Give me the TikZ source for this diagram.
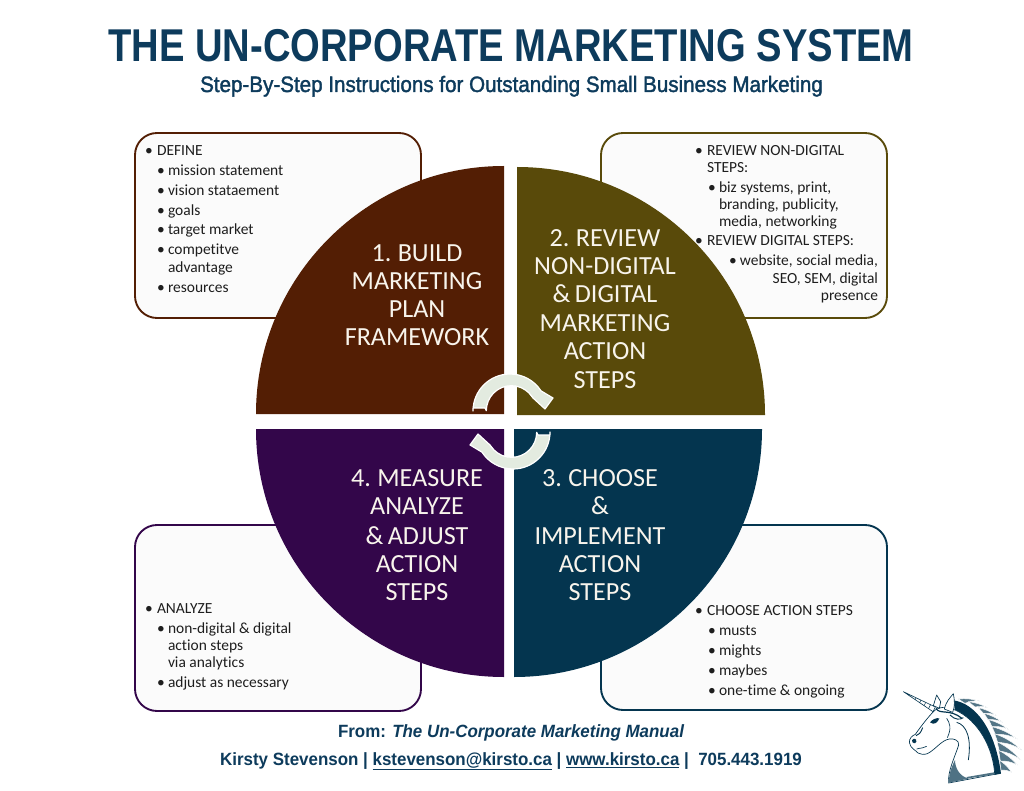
\documentclass[tikz,border=0pt]{standalone}
\usepackage{fontspec}
\setmainfont[Ligatures=NoCommon]{Carlito}
\newfontfamily\quadfont[WordSpace=0.75,Ligatures=NoCommon]{Carlito}
\newfontfamily\titlefont[FakeStretch=0.83]{Liberation Sans}
\newfontfamily\subfont[FakeStretch=0.925,FakeBold=1.6]{Liberation Sans}
\newfontfamily\footfont[FakeStretch=0.955]{Liberation Sans}
\usetikzlibrary{calc}
\definecolor{brownq}{HTML}{531E04}
\definecolor{oliveq}{HTML}{594A0A}
\definecolor{navyq}{HTML}{04354F}
\definecolor{purpleq}{HTML}{33064A}
\definecolor{headnavy}{HTML}{0D3B5C}
\definecolor{arrowfill}{HTML}{E3EBE0}
\definecolor{bodyink}{HTML}{1E1E1E}
\definecolor{quadink}{HTML}{F8F4EC}
\tikzset{
  x=0.75pt,y=0.75pt,
  panel/.style={rounded corners=16.5pt,line width=1.4pt,fill=black!1.5},
  body/.style={anchor=base west,inner sep=0pt,outer sep=0pt,text=bodyink,font=\fontsize{11.6}{13}\selectfont},
  bodyr/.style={body,anchor=base east},
  quad/.style={anchor=base,inner sep=0pt,outer sep=0pt,text=quadink,font=\quadfont\fontsize{19.6}{21}\selectfont},
  foot/.style={anchor=base,inner sep=0pt,outer sep=0pt,text=headnavy,font=\footfont\bfseries\fontsize{13.3}{15}\selectfont},
  turn/.style={fill=arrowfill,draw=white,line width=0.9pt,line join=round}
}
% bullet plus text line: name, bullet x, text x, baseline y, text
\newcommand{\bitem}[5]{%
  \node[body] (#1b) at (#2,-#4) {\textbullet};
  \node[body] (#1) at (#3,-#4) {#5};}
\newcommand{\titem}[4]{\node[body] (#1) at (#2,-#3) {#4};}
% one circular arrow around the middle of the wheel
\newcommand{\turnarrow}{%
  \fill[turn] (473,-408) -- (473,-411) arc (180:33:37) -- (553,-398) -- (545,-409) -- (533,-398)
    -- (529,-393) arc (45:180:25) -- (485,-408) -- cycle;}
% one lock of the mane: root points and tip
\newcommand{\flamelock}[3]{%
  \filldraw[fill=navyq!68!white,draw=white,line width=0.35pt] (#1) to[bend left=10] (#3) to[bend right=14] (#2) -- cycle;}
\begin{document}
\begin{tikzpicture}
\useasboundingbox (0,0) rectangle (1024,-791);
\fill[white] (0,0) rectangle (1024,-791);

% title block
\node[anchor=base,inner sep=0,text=headnavy,font=\titlefont\bfseries\fontsize{34.5}{36}\selectfont] (title) at (511,-62) {THE UN-CORPORATE MARKETING SYSTEM};
\node[anchor=base,inner sep=0,text=headnavy,font=\subfont\fontsize{16.7}{18}\selectfont] (subtitle) at (511.5,-92) {Step-By-Step Instructions for Outstanding Small Business Marketing};

% detail panels behind the wheel
\draw[panel,draw=brownq] (135,-133) rectangle (421,-318);
\draw[panel,draw=oliveq] (601,-133) rectangle (887,-318);
\draw[panel,draw=purpleq] (135,-525) rectangle (421,-711);
\draw[panel,draw=navyq] (601,-525) rectangle (887,-710);

% four quadrants of the wheel
\fill[brownq] (504,-414) -- (256,-414) arc (180:90:248) -- cycle;
\fill[oliveq] (517,-415) -- (517,-167) arc (90:0:248) -- cycle;
\fill[navyq] (514,-429) -- (762,-429) arc (0:-90:248) -- cycle;
\fill[purpleq] (504,-429) -- (504,-677) arc (270:180:248) -- cycle;

% circular arrows
\turnarrow
\begin{scope}[rotate around={180:(511.5,-421.5)}]
\turnarrow
\end{scope}

% quadrant headings
\node[quad] (q1a) at (417,-262) {1. BUILD};
\node[quad] (q1b) at (417,-290) {MARKETING};
\node[quad] (q1c) at (417,-318) {PLAN};
\node[quad] (q1d) at (417,-346) {FRAMEWORK};
\node[quad] (q2a) at (605,-247) {2. REVIEW};
\node[quad] (q2b) at (605,-275) {NON-DIGITAL};
\node[quad] (q2c) at (605,-303) {\& DIGITAL};
\node[quad] (q2d) at (605,-332) {MARKETING};
\node[quad] (q2e) at (605,-360) {ACTION};
\node[quad] (q2f) at (605,-388) {STEPS};
\node[quad] (q3a) at (600,-486) {3. CHOOSE};
\node[quad] (q3b) at (600,-514) {\&};
\node[quad] (q3c) at (600,-544) {IMPLEMENT};
\node[quad] (q3d) at (600,-572) {ACTION};
\node[quad] (q3e) at (600,-600) {STEPS};
\node[quad] (q4a) at (417,-486) {4. MEASURE};
\node[quad] (q4b) at (417,-514) {ANALYZE};
\node[quad] (q4c) at (417,-544) {\& ADJUST};
\node[quad] (q4d) at (417,-572) {ACTION};
\node[quad] (q4e) at (417,-600) {STEPS};

% panel text, top left
\bitem{tla}{145}{157}{156}{DEFINE}
\bitem{tlb}{157}{168}{176}{mission statement}
\bitem{tlc}{157}{168}{196}{vision stataement}
\bitem{tld}{157}{168}{216}{goals}
\bitem{tle}{157}{168}{235}{target market}
\bitem{tlf}{157}{168}{255}{competitve}
\titem{tlg}{168}{273}{advantage}
\bitem{tlh}{157}{168}{293}{resources}

% panel text, top right
\bitem{tra}{695}{707}{156}{REVIEW NON-DIGITAL}
\titem{trb}{707}{173}{STEPS:}
\bitem{trc}{708}{719}{193}{biz systems, print,}
\titem{trd}{719}{210}{branding, publicity,}
\titem{tre}{719}{227}{media, networking}
\bitem{trf}{695}{707}{246}{REVIEW DIGITAL STEPS:}
\node[body] (trgb) at (729,-266) {\textbullet};
\node[bodyr] (trg) at (878,-266) {website, social media,};
\node[bodyr] (trh) at (878,-284) {SEO, SEM, digital};
\node[bodyr] (tri) at (878,-301) {presence};

% panel text, bottom left
\bitem{bla}{145}{157}{613}{ANALYZE}
\bitem{blb}{157}{168}{633}{non-digital \& digital}
\titem{blc}{168}{650}{action steps}
\titem{bld}{168}{667}{via analytics}
\bitem{ble}{157}{168}{687}{adjust as necessary}

% panel text, bottom right
\bitem{bra}{695}{707}{615}{CHOOSE ACTION STEPS}
\bitem{brb}{708}{719}{635}{musts}
\bitem{brc}{708}{719}{655}{mights}
\bitem{brd}{708}{719}{675}{maybes}
\bitem{bre}{708}{719}{695}{one-time \& ongoing}

% source lines
\node[foot] (srca) at (511,-737) {From: \itshape The Un-Corporate Marketing Manual};
\node[foot] (srcb) at (511,-765) {Kirsty Stevenson | \underline{kstevenson@kirsto.ca} | \underline{www.kirsto.ca} |\ \ 705.443.1919};

% unicorn head emblem
\begin{scope}[shift={(900,-685)},x=0.25pt,y=0.25pt,line join=round]
  % locks of the mane
  \flamelock{175,-42}{195,-55}{238,-48}
  \flamelock{205,-50}{225,-66}{262,-68}
  \flamelock{235,-68}{250,-85}{290,-92}
  \flamelock{252,-85}{264,-104}{308,-112}
  \flamelock{266,-104}{276,-125}{325,-133}
  \flamelock{276,-125}{286,-148}{352,-162}
  \flamelock{284,-146}{293,-172}{365,-195}
  \flamelock{291,-170}{298,-198}{362,-225}
  \flamelock{296,-196}{301,-228}{352,-240}
  \flamelock{299,-226}{303,-255}{335,-262}
  % horn
  \filldraw[fill=white,draw=navyq,line width=0.45pt] (10,-20) -- (106,-66) -- (99,-80) -- cycle;
  \foreach \t in {0.4,0.55,0.7,0.85}
    \draw[navyq,line width=0.4pt] ($(10,-20)!\t!(106,-66)$) -- ($(10,-20)!\t!(99,-80)$);
  % dark band along the crest
  \fill[navyq] (160,-46) .. controls (225,-55) and (285,-130) .. (303,-266)
    -- (283,-270) .. controls (280,-190) and (235,-105) .. (165,-75) -- cycle;
  % head and neck
  \filldraw[fill=white,draw=navyq,line width=0.5pt]
    (104,-76) .. controls (125,-62) and (150,-66) .. (165,-75)
    .. controls (235,-105) and (280,-190) .. (284,-268)
    -- (146,-294)
    .. controls (142,-260) and (165,-215) .. (176,-180)
    .. controls (178,-165) and (160,-160) .. (148,-162)
    .. controls (125,-165) and (105,-195) .. (82,-206)
    .. controls (72,-210) and (62,-208) .. (54,-204)
    .. controls (48,-196) and (30,-190) .. (28,-172)
    .. controls (28,-160) and (36,-152) .. (46,-148)
    .. controls (62,-125) and (85,-95) .. (104,-76) -- cycle;
  % shading low on the neck
  \fill[navyq!70!white] (147,-293) .. controls (146,-265) and (155,-245) .. (165,-225)
    .. controls (165,-250) and (180,-275) .. (205,-280) -- (284,-268) -- (282,-262)
    -- (200,-276) -- (205,-281) -- cycle;
  % ears
  \filldraw[fill=white,draw=navyq,line width=0.5pt] (100,-62) -- (110,-30) -- (122,-50) -- (118,-70) -- cycle;
  \filldraw[fill=white,draw=navyq,line width=0.5pt] (133,-72) .. controls (138,-50) and (150,-38) .. (160,-26)
    .. controls (164,-45) and (165,-65) .. (158,-82) -- cycle;
  % forelock and face lines
  \draw[navyq,line width=0.9pt] (108,-70) .. controls (118,-90) and (150,-70) .. (185,-100);
  \draw[navyq,line width=0.7pt] (150,-90) .. controls (165,-105) and (180,-105) .. (190,-98);
  \draw[navyq,line width=0.6pt] (170,-112) .. controls (200,-120) and (215,-160) .. (205,-225);
  \draw[navyq,line width=0.5pt] (142,-158) .. controls (155,-130) and (150,-115) .. (140,-100);
  \fill[navyq] (90,-112) .. controls (98,-102) and (110,-98) .. (118,-100)
    .. controls (114,-112) and (102,-122) .. (90,-112) -- cycle;
  \draw[navyq,line width=0.7pt] (68,-128) .. controls (62,-145) and (55,-150) .. (48,-152);
  \fill[navyq] (36,-166) .. controls (40,-158) and (50,-160) .. (49,-170) .. controls (46,-178) and (36,-175) .. (36,-166) -- cycle;
  \draw[navyq,line width=0.5pt] (50,-192) .. controls (62,-188) and (72,-190) .. (80,-184);
\end{scope}
\end{tikzpicture}
\end{document}
